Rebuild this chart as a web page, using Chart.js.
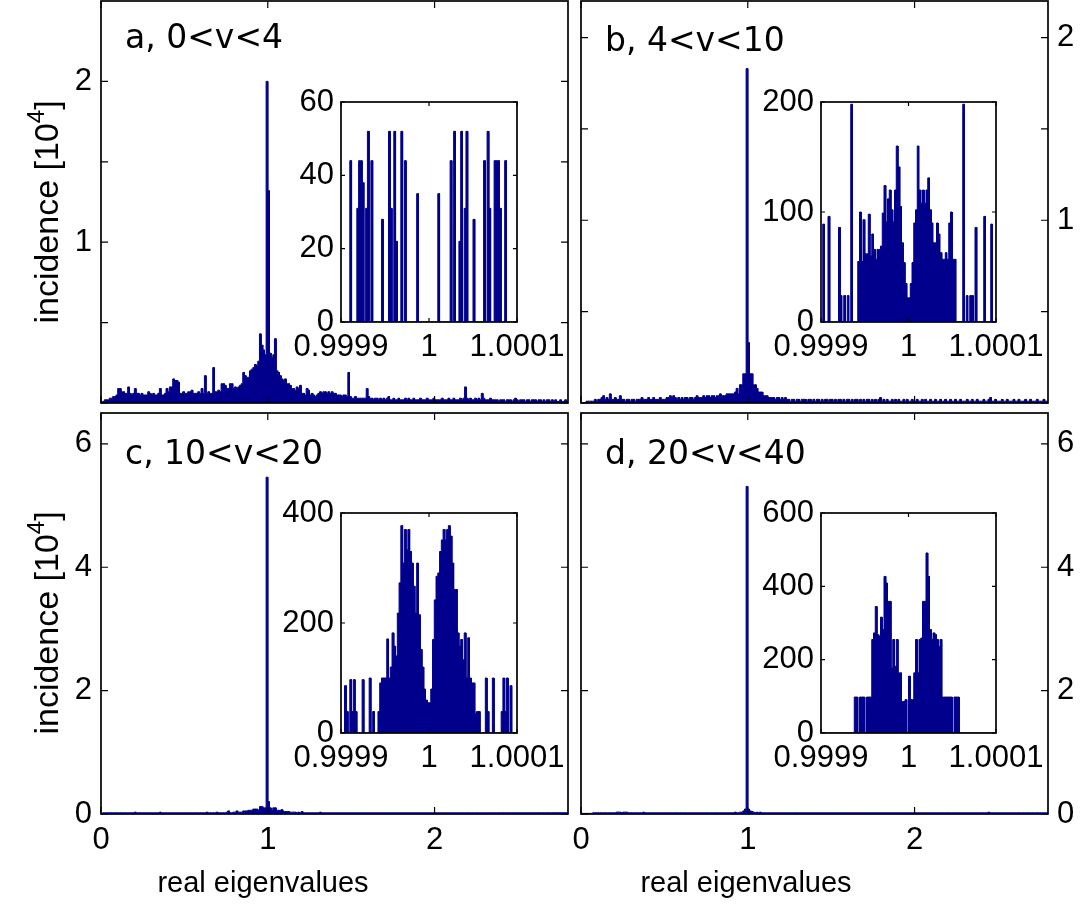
<!DOCTYPE html>
<html>
<head>
<meta charset="utf-8">
<script src="https://cdn.jsdelivr.net/npm/chart.js@4.4.1/dist/chart.umd.min.js"></script>
<style>
  html, body { margin: 0; padding: 0; background: #ffffff; }
  #fig { position: relative; width: 1085px; height: 915px; overflow: hidden; background: #ffffff; }
  #fig canvas { position: absolute; left: -100px; top: -100px; }
</style>
</head>
<body>
<div id="fig"></div>
<script>
// ---- Histograms of real eigenvalues, bin width 0.01 on [0, 2.8], counts in hundreds ----
const mainBinStart = 0;
const mainBinWidth = 0.01;

const incA = [
  1,1,2,2,2,3,3,4,4,5,9,9,7,7,6,6,10,6,5,6,
  9,6,6,5,6,5,5,5,7,6,5,6,5,5,6,9,5,5,6,9,
  7,10,10,15,14,14,13,6,6,7,6,6,7,7,8,6,6,6,7,6,
  9,6,17,6,7,6,6,22,7,7,8,7,12,12,11,9,9,12,12,9,
  10,9,10,11,12,19,17,16,16,20,21,22,24,23,26,43,36,33,30,200,
  132,31,28,30,40,20,19,17,15,14,15,12,12,11,9,9,8,10,9,11,
  6,6,5,9,8,5,6,5,4,5,6,7,6,7,7,6,7,6,7,6,
  6,5,5,5,4,5,5,4,19,4,3,3,4,3,3,3,3,3,3,9,
  4,3,3,2,3,3,2,3,2,3,2,3,4,2,2,3,2,2,3,2,
  2,2,3,2,3,2,2,3,2,2,2,3,2,2,2,3,2,2,2,3,
  2,2,2,2,3,2,2,2,3,2,2,3,2,2,2,3,2,3,10,3,
  2,3,2,2,3,2,3,2,6,3,2,2,2,3,2,2,2,2,1,2,
  2,2,1,2,2,2,1,2,3,2,1,2,2,2,1,2,2,1,2,2,
  2,1,2,2,1,2,1,2,2,1,2,1,2,1,1,2,1,1,2,1
];

const incB = [
  0,0,0,1,1,1,1,1,2,1,2,2,3,4,2,3,2,5,2,2,
  3,2,2,4,2,2,1,2,2,1,2,2,1,2,2,2,3,2,2,2,
  3,2,2,3,2,2,2,3,2,2,2,3,3,4,3,4,3,2,3,2,
  3,2,3,3,2,3,3,2,3,4,3,3,3,4,3,4,4,3,4,4,
  3,4,4,5,4,4,4,5,5,5,5,5,6,8,5,10,10,16,16,183,
  33,16,16,10,10,8,6,6,6,4,4,4,3,3,3,3,2,3,3,2,
  3,2,3,2,2,1,2,2,1,2,2,1,2,2,2,1,2,2,1,2,
  1,2,2,1,2,1,2,2,1,2,2,1,2,1,2,2,1,2,1,2,
  2,1,2,1,2,2,1,2,1,2,1,2,2,1,2,1,2,1,2,3,
  1,2,1,2,1,1,2,1,2,1,2,1,1,2,1,2,1,1,2,1,
  1,2,1,1,2,1,2,1,1,2,1,1,2,1,1,2,1,1,2,1,
  1,2,1,1,2,1,1,2,1,1,1,2,1,1,2,1,1,2,1,1,
  1,2,1,1,2,3,1,1,2,1,1,1,2,1,1,2,1,1,1,2,
  1,1,2,1,1,1,2,1,1,2,1,1,1,2,1,1,1,2,1,1
];

const incC = [
  1,2,2,2,2,2,2,2,2,2,2,2,2,2,2,2,2,2,2,2,
  3,2,2,2,2,2,2,2,2,2,2,2,2,2,2,3,2,2,2,2,
  2,2,2,2,2,2,2,2,2,2,2,2,2,2,2,2,2,2,2,2,
  2,2,2,3,2,2,2,2,2,3,2,2,2,2,2,3,5,2,2,3,
  3,5,3,3,3,5,5,5,6,6,6,8,8,8,6,12,12,10,10,546,
  20,10,6,10,10,6,6,6,7,4,4,4,4,3,3,3,3,2,3,2,
  4,2,2,2,2,2,2,2,2,2,2,3,2,2,2,2,2,2,2,2,
  2,2,2,2,2,2,2,2,2,2,2,2,2,2,2,2,2,2,2,2,
  2,2,2,2,2,2,2,2,2,2,2,2,2,2,2,2,2,2,2,2,
  2,2,2,2,2,2,2,2,2,2,2,2,2,2,2,2,2,2,2,2,
  2,2,2,2,2,2,2,2,2,2,2,2,2,2,2,2,2,2,2,2,
  2,2,2,2,2,2,2,2,2,2,2,2,2,2,2,2,2,2,2,2,
  2,2,2,2,2,2,2,2,2,2,2,2,2,2,2,2,2,2,2,2,
  2,2,2,2,2,2,2,2,2,2,2,2,2,2,2,2,2,2,2,2
];

const incD = [
  1,1,1,1,1,1,1,2,2,2,2,2,2,2,2,2,2,2,2,2,
  2,3,3,3,2,3,3,3,2,2,2,2,2,2,2,2,2,3,2,2,
  2,2,2,2,2,2,2,2,2,2,2,2,2,2,2,2,2,2,2,2,
  2,2,2,2,2,2,2,2,2,2,2,2,2,2,2,2,2,2,2,2,
  2,2,2,2,2,2,2,2,2,2,2,2,3,2,2,3,3,5,8,531,
  8,5,4,3,2,3,2,3,2,2,2,2,2,2,2,2,2,2,2,2,
  2,2,2,2,2,2,2,2,2,2,2,2,2,2,2,2,2,2,2,2,
  2,2,2,2,2,2,2,2,2,2,2,2,2,2,2,2,2,2,2,2,
  2,2,2,2,2,2,2,2,2,2,2,2,2,2,2,2,2,2,2,2,
  2,2,2,2,2,2,2,2,2,2,2,2,2,2,2,2,2,2,2,2,
  2,2,2,2,2,2,2,2,2,2,2,2,2,2,2,2,2,2,2,2,
  2,2,2,2,2,2,2,2,2,2,2,2,2,2,2,2,2,2,2,2,
  2,2,2,2,3,2,2,2,2,2,2,2,2,2,2,2,2,2,2,2,
  2,2,2,2,2,2,2,2,2,2,2,2,2,2,2,2,2,2,2,2
];

// ---- Zoom on the central peak: bin width 2e-6 on [0.9999, 1.0001], raw counts ----
const zoomBinStart = 0.9999;
const zoomBinWidth = 0.000002;

const zoomA = [
  0,0,0,0,0,44,0,0,0,31,
  44,44,38,0,31,52,0,44,0,0,
  0,0,0,28,0,0,0,52,31,0,
  52,22,0,0,52,0,44,0,0,0,
  0,0,0,35,0,0,0,0,0,0,
  0,0,0,0,0,35,0,0,0,0,
  0,0,44,0,52,0,0,22,52,0,
  31,52,0,0,0,28,0,0,0,0,
  0,44,0,52,31,0,0,44,44,44,
  31,0,0,44,0,0,0,0,0,0
];

const zoomB = [
  0,89,0,0,96,0,0,0,0,0,
  86,24,0,24,0,24,0,198,0,0,
  0,55,100,55,93,62,62,98,60,80,
  66,57,66,66,69,99,124,91,112,120,
  102,91,120,160,141,105,72,54,35,22,
  22,35,54,90,102,160,120,108,120,108,
  120,131,102,90,72,72,90,80,63,57,
  57,63,57,90,100,57,57,0,0,0,
  0,198,0,24,0,24,24,0,86,0,
  0,0,0,96,0,0,0,89,0,0
];

const zoomC = [
  0,0,86,39,0,97,39,97,39,0,
  0,0,97,0,0,0,100,0,39,0,
  0,39,91,100,100,100,171,100,120,182,
  158,140,218,273,377,309,370,333,370,330,
  309,267,218,309,215,152,120,80,60,55,
  55,80,170,242,285,291,330,351,370,351,
  370,377,358,309,261,261,182,158,170,133,
  182,100,173,100,91,91,36,39,39,0,
  0,0,100,39,0,0,100,0,0,0,
  0,39,100,39,100,0,86,0,0,0
];

const zoomD = [
  0,0,0,0,0,0,0,0,0,0,
  0,0,0,0,0,0,0,0,0,98,
  98,0,98,98,98,0,98,98,98,255,
  273,345,268,264,316,282,427,409,359,359,
  177,255,182,255,164,164,86,86,91,0,
  155,91,91,164,255,164,255,259,359,359,
  491,427,282,255,273,268,255,236,255,98,
  98,98,98,98,98,0,98,98,98,0,
  0,0,0,0,0,0,0,0,0,0,
  0,0,0,0,0,0,0,0,0,0
];

// ---- Axis ticks and labels ----
const mainXTicks = [0, 1, 2];
const mainXLabels = ['0', '1', '2'];
const topYTicks = [0, 0.5, 1, 1.5, 2];
const topYLabels = ['', '', '1', '', '2'];
const bottomYTicks = [0, 2, 4, 6];
const bottomYLabels = ['0', '2', '4', '6'];
const zoomXTicks = [0.9999, 1, 1.0001];
const zoomXLabels = ['0.9999', '1', '1.0001'];
const zoomYTicksA = [0, 20, 40, 60];
const zoomYTicksB = [0, 100, 200];
const zoomYTicksC = [0, 200, 400];
const zoomYTicksD = [0, 200, 400, 600];

const panelTitles = ['a, 0<v<4', 'b, 4<v<10', 'c, 10<v<20', 'd, 20<v<40'];
const yTitle = 'incidence [10';
const yTitleExp = '4';
const xTitle = 'real eigenvalues';

// ---- Drawing ----
// every canvas is larger than the page by M on each side, so labels near the
// page edge never push the plot areas inward
const W = 1085, H = 915, M = 100;
const CW = W + 2 * M, CH = H + 2 * M;
const BLUE = '#00008c';
const SANS = '"Liberation Sans", Arial, Helvetica, sans-serif';
const TITLE_FONT = '33px "DejaVu Sans", Verdana, sans-serif';
const AXW = 70, AXH = 60;
const fig = document.getElementById('fig');

// outline of a histogram as a step polyline closed to the baseline
function histogramOutline(start, width, counts, unit) {
  const pts = [{ x: start, y: 0 }];
  counts.forEach((c, i) => {
    const x0 = start + i * width;
    pts.push({ x: x0, y: c / unit }, { x: x0 + width, y: c / unit });
  });
  pts.push({ x: start + counts.length * width, y: 0 });
  return pts;
}

function framePlugin(cfg) {
  return {
    id: 'frame' + cfg.id,
    beforeDraw(chart) {
      if (!cfg.opaque) return;
      const a = chart.chartArea, ctx = chart.ctx;
      ctx.save();
      ctx.fillStyle = '#ffffff';
      ctx.fillRect(a.left, a.top, a.right - a.left, a.bottom - a.top);
      ctx.restore();
    },
    afterDraw(chart) {
      const { ctx, chartArea: a } = chart;
      const sx = chart.scales.x, sy = chart.scales.y;
      const L = cfg.tickLen;
      ctx.save();
      ctx.strokeStyle = '#000000';
      ctx.lineWidth = 1.2;
      ctx.beginPath();
      cfg.xTicks.forEach(v => {
        const px = sx.getPixelForValue(v);
        ctx.moveTo(px, a.bottom); ctx.lineTo(px, a.bottom - L);
        ctx.moveTo(px, a.top); ctx.lineTo(px, a.top + L);
      });
      cfg.yTicks.forEach(v => {
        const py = sy.getPixelForValue(v);
        ctx.moveTo(a.left, py); ctx.lineTo(a.left + L, py);
        ctx.moveTo(a.right, py); ctx.lineTo(a.right - L, py);
      });
      ctx.stroke();
      ctx.lineWidth = 1.7;
      ctx.strokeRect(a.left, a.top, a.right - a.left, a.bottom - a.top);

      ctx.fillStyle = '#000000';
      if (cfg.title) {
        ctx.font = TITLE_FONT;
        ctx.textAlign = 'left';
        ctx.textBaseline = 'alphabetic';
        ctx.fillText(cfg.title.text, M + cfg.title.x, M + cfg.title.y);
      }
      if (cfg.yTitle) {
        const big = 34, small = 24;
        ctx.font = big + 'px ' + SANS;
        const w1 = ctx.measureText(yTitle).width;
        const w3 = ctx.measureText(']').width;
        ctx.font = small + 'px ' + SANS;
        const w2 = ctx.measureText(yTitleExp).width;
        const total = w1 + w2 + w3;
        ctx.translate(M + cfg.yTitle.x, M + cfg.yTitle.y);
        ctx.rotate(-Math.PI / 2);
        ctx.textAlign = 'left';
        ctx.textBaseline = 'alphabetic';
        let x = -total / 2;
        ctx.font = big + 'px ' + SANS;
        ctx.fillText(yTitle, x, 0); x += w1;
        ctx.font = small + 'px ' + SANS;
        ctx.fillText(yTitleExp, x, -big * 0.42); x += w2;
        ctx.font = big + 'px ' + SANS;
        ctx.fillText(']', x, 0);
        ctx.setTransform(1, 0, 0, 1, 0, 0);
      }
      if (cfg.xTitle) {
        ctx.font = '29px ' + SANS;
        ctx.textAlign = 'center';
        ctx.textBaseline = 'alphabetic';
        ctx.fillText(xTitle, M + cfg.xTitle.x, M + cfg.xTitle.y);
      }
      ctx.restore();
    }
  };
}

function panel(cfg) {
  const cv = document.createElement('canvas');
  cv.width = CW; cv.height = CH;
  fig.appendChild(cv);
  const a = cfg.area;
  const yLeft = cfg.yPos === 'left';
  const showY = !!cfg.yLabels, showX = !!cfg.xLabels;
  const pad = {
    left: M + a.l - (showY && yLeft ? AXW : 0),
    right: M + W - a.r - (showY && !yLeft ? AXW : 0),
    top: M + a.t,
    bottom: M + H - a.b - (showX ? AXH : 0)
  };
  const tickFont = { family: SANS, size: cfg.tickSize };
  new Chart(cv, {
    type: 'line',
    data: {
      datasets: [{
        data: histogramOutline(cfg.start, cfg.width, cfg.counts, cfg.unit),
        borderColor: BLUE,
        backgroundColor: BLUE,
        borderWidth: 1,
        fill: 'origin',
        pointRadius: 0,
        tension: 0
      }]
    },
    options: {
      responsive: false,
      animation: false,
      events: [],
      layout: { autoPadding: false, padding: pad },
      plugins: { legend: { display: false }, tooltip: { enabled: false } },
      scales: {
        x: {
          type: 'linear', min: cfg.xMin, max: cfg.xMax, position: 'bottom',
          display: showX,
          afterFit: s => { s.height = showX ? AXH : 0; },
          afterBuildTicks: s => { s.ticks = cfg.xTicks.map(v => ({ value: v })); },
          ticks: {
            callback: (v, i) => (cfg.xLabels ? cfg.xLabels[i] : ''),
            font: tickFont, color: '#000000', padding: cfg.xPad,
            autoSkip: false, maxRotation: 0, minRotation: 0
          },
          grid: { display: false, drawTicks: false },
          border: { display: false }
        },
        y: {
          type: 'linear', min: 0, max: cfg.yMax, position: cfg.yPos,
          display: showY,
          afterFit: s => { s.width = showY ? AXW : 0; },
          afterBuildTicks: s => { s.ticks = cfg.yTicks.map(v => ({ value: v })); },
          ticks: {
            callback: (v, i) => (cfg.yLabels ? cfg.yLabels[i] : ''),
            font: tickFont, color: '#000000', padding: cfg.yPad,
            autoSkip: false
          },
          grid: { display: false, drawTicks: false },
          border: { display: false }
        }
      }
    },
    plugins: [framePlugin(cfg)]
  });
}

const mainCommon = { start: mainBinStart, width: mainBinWidth, unit: 100, xMin: 0, xMax: 2.8,
                     xTicks: mainXTicks, tickLen: 7, tickSize: 31, xPad: 8, yPad: 9 };
const zoomCommon = { start: zoomBinStart, width: zoomBinWidth, unit: 1, xMin: 0.9999, xMax: 1.0001,
                     xTicks: zoomXTicks, xLabels: zoomXLabels, yPos: 'left', tickLen: 4, tickSize: 31,
                     yPad: 7, opaque: true };

// main panels
panel(Object.assign({}, mainCommon, {
  id: 'a', area: { l: 101, r: 568, t: 1, b: 403 }, counts: incA, yMax: 2.5,
  yTicks: topYTicks, yLabels: topYLabels, yPos: 'left',
  title: { text: panelTitles[0], x: 125, y: 48 }, yTitle: { x: 58, y: 212 }
}));
panel(Object.assign({}, mainCommon, {
  id: 'b', area: { l: 581, r: 1048, t: 1, b: 403 }, counts: incB, yMax: 2.2,
  yTicks: topYTicks, yLabels: topYLabels, yPos: 'right',
  title: { text: panelTitles[1], x: 605, y: 51 }
}));
panel(Object.assign({}, mainCommon, {
  id: 'c', area: { l: 101, r: 568, t: 413, b: 814 }, counts: incC, yMax: 6.5,
  yTicks: bottomYTicks, yLabels: bottomYLabels, yPos: 'left', xLabels: mainXLabels,
  title: { text: panelTitles[2], x: 125, y: 464 }, yTitle: { x: 58, y: 623 },
  xTitle: { x: 263, y: 892 }
}));
panel(Object.assign({}, mainCommon, {
  id: 'd', area: { l: 581, r: 1048, t: 413, b: 814 }, counts: incD, yMax: 6.5,
  yTicks: bottomYTicks, yLabels: bottomYLabels, yPos: 'right', xLabels: mainXLabels,
  title: { text: panelTitles[3], x: 605, y: 464 },
  xTitle: { x: 746, y: 892 }
}));

// zoomed insets
panel(Object.assign({}, zoomCommon, {
  id: 'za', area: { l: 341, r: 517, t: 102, b: 322 }, counts: zoomA, yMax: 60,
  yTicks: zoomYTicksA, yLabels: zoomYTicksA.map(String), xPad: 7
}));
panel(Object.assign({}, zoomCommon, {
  id: 'zb', area: { l: 821, r: 996, t: 102, b: 322 }, counts: zoomB, yMax: 200,
  yTicks: zoomYTicksB, yLabels: zoomYTicksB.map(String), xPad: 7
}));
panel(Object.assign({}, zoomCommon, {
  id: 'zc', area: { l: 341, r: 517, t: 513, b: 733 }, counts: zoomC, yMax: 400,
  yTicks: zoomYTicksC, yLabels: zoomYTicksC.map(String), xPad: 7
}));
panel(Object.assign({}, zoomCommon, {
  id: 'zd', area: { l: 821, r: 996, t: 513, b: 733 }, counts: zoomD, yMax: 600,
  yTicks: zoomYTicksD, yLabels: zoomYTicksD.map(String), xPad: 7
}));
</script>
</body>
</html>
